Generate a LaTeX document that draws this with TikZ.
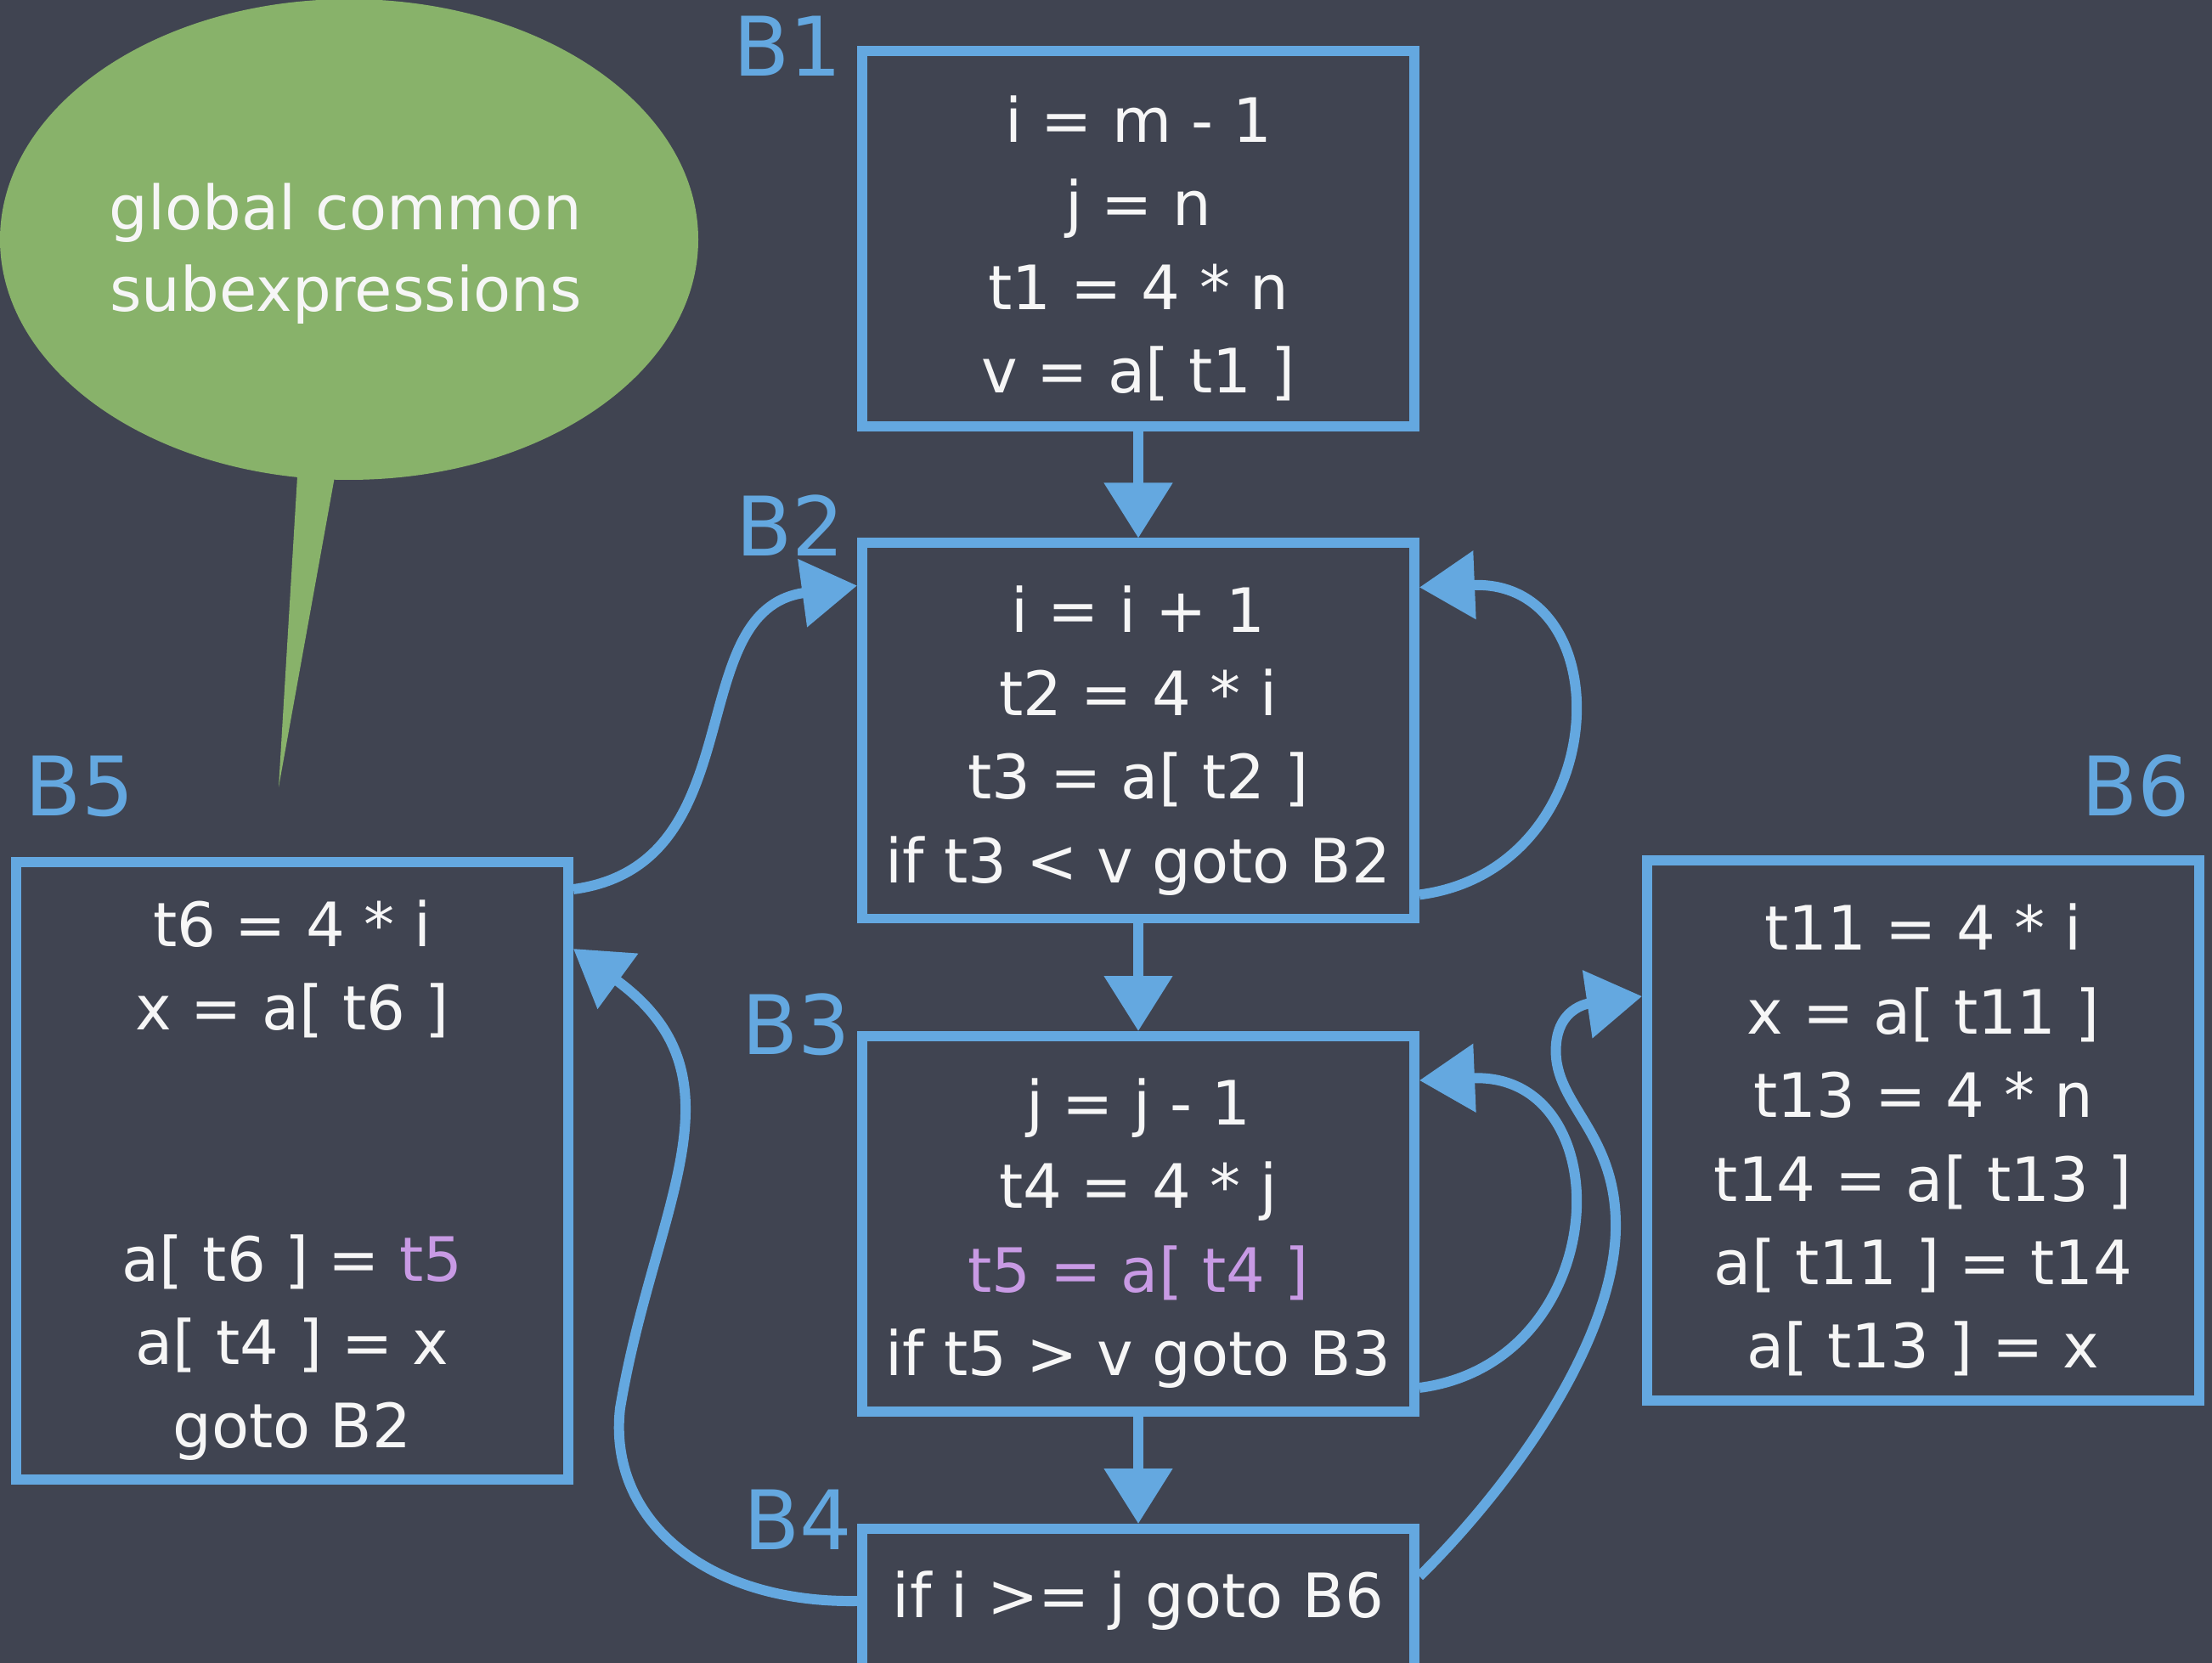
\documentclass[tikz,border=0pt]{standalone}
\usepackage{fontspec}
\setmainfont{DejaVu Sans}
\usetikzlibrary{arrows.meta}
\definecolor{board}{RGB}{64,68,81}
\definecolor{chalkblue}{RGB}{100,168,224}
\definecolor{bubble}{RGB}{136,178,106}
\definecolor{chalkpurple}{RGB}{200,154,228}
\definecolor{chalkwhite}{RGB}{246,246,246}
% taller first line, pushes the code lines down a little
\newcommand{\topline}{\rule{0pt}{22pt}}

\begin{document}
\begin{tikzpicture}[
  blk/.style={draw=chalkblue,line width=3.4pt,minimum width=6.5cm,inner sep=0pt,
    align=center,text=chalkwhite,font=\fontsize{20.5}{28}\selectfont},
  lbl/.style={text=chalkblue,font=\fontsize{27.5}{30}\selectfont,inner sep=0pt},
  flow/.style={draw=chalkblue,line width=3.4pt,-{Triangle[length=6.5mm,width=7.8mm]}},
]
\useasboundingbox (0,0) rectangle (26.04,19.58);
\fill[board] (0,0) rectangle (26.04,19.58);
\clip (0,0) rectangle (26.04,19.58);

% ----- speech bubble -----
\fill[bubble] (4.11,16.76) ellipse [x radius=4.11cm, y radius=2.83cm];
\fill[bubble] (3.52,14.3) -- (4.0,14.3) -- (3.28,10.31) -- cycle;
\node[text=chalkwhite,font=\fontsize{20.5}{27.3}\selectfont,align=center] (note)
  at (4.07,16.59) {global common\\ subexpressions};

% ----- basic blocks -----
\node[blk,minimum height=4.42cm] (B1) at (13.4,16.77)
  {\topline i = m - 1\\ j = n\\ t1 = 4 * n\\ v = a[ t1 ]};
\node[blk,minimum height=4.42cm] (B2) at (13.4,10.975)
  {\topline i = i + 1\\ t2 = 4 * i\\ t3 = a[ t2 ]\\ if t3 < v goto B2};
\node[blk,minimum height=4.42cm] (B3) at (13.4,5.17)
  {\topline j = j - 1\\ t4 = 4 * j\\ \textcolor{chalkpurple}{t5 = a[ t4 ]}\\ if t5 > v goto B3};
\node[blk,minimum height=1.7cm] (B4) at (13.4,0.73) {if i >= j goto B6};
\node[blk,minimum height=7.27cm] (B5) at (3.44,5.795)
  {\topline t6 = 4 * i\\ x = a[ t6 ]\\ ~\\ ~\\ a[ t6 ] = \textcolor{chalkpurple}{t5}\\ a[ t4 ] = x\\ goto B2};
\node[blk,minimum height=6.36cm] (B6) at (22.64,6.27)
  {\topline t11 = 4 * i\\ x = a[ t11 ]\\ t13 = 4 * n\\ t14 = a[ t13 ]\\ a[ t11 ] = t14\\ a[ t13 ] = x};

% ----- block names -----
\node[lbl,anchor=east] (B1lbl) at ([xshift=-1.7mm]B1.north west) {B1};
\node[lbl,anchor=east] (B2lbl) at ([xshift=-1.4mm,yshift=1.45mm]B2.north west) {B2};
\node[lbl,anchor=east] (B3lbl) at ([xshift=-0.7mm,yshift=0.8mm]B3.north west) {B3};
\node[lbl,anchor=east] (B4lbl) at ([xshift=-0.5mm,yshift=0.5mm]B4.north west) {B4};
\node[lbl,anchor=south west] (B5lbl) at ([xshift=1.6mm,yshift=4.6mm]B5.north west) {B5};
\node[lbl,anchor=south east] (B6lbl) at ([xshift=-1.6mm,yshift=4.4mm]B6.north east) {B6};

% ----- flow edges -----
\draw[flow] (B1.south) -- (B2.north);
\draw[flow] (B2.south) -- (B3.north);
\draw[flow] (B3.south) -- (B4.north);
\draw[flow] ([yshift=3.4mm]B2.south east) .. controls +(2.3,0.3) and +(2.4,0.1)
  .. ([yshift=-5.8mm]B2.north east);
\draw[flow] ([yshift=3.4mm]B3.south east) .. controls +(2.3,0.3) and +(2.4,0.1)
  .. ([yshift=-5.8mm]B3.north east);
\draw[flow] ([yshift=-3.8mm]B5.north east) .. controls (8.9,9.4) and (8.0,12.4)
  .. ([yshift=-5.6mm]B2.north west);
\draw[flow] (B4.west) .. controls (8.3,0.7) and (7.15,1.7) .. (7.3,3.0)
  .. controls (7.7,5.4) and (8.84,6.88) .. ([yshift=-10.8mm]B5.north east);
\draw[flow] ([yshift=2.9mm]B4.east) .. controls (17.9,2.2) and (19.05,3.9) .. (19.02,5.2)
  .. controls (19.0,6.3) and (18.25,6.6) .. (18.32,7.3)
  .. controls (18.37,7.8) and (18.85,7.78) .. ([yshift=-16.6mm]B6.north west);

\end{tikzpicture}
\end{document}
